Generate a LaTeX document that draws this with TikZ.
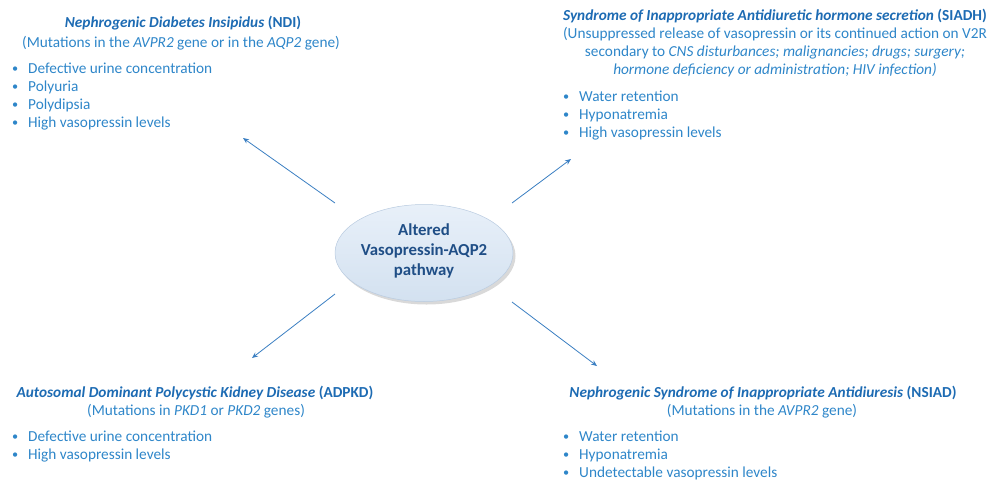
\documentclass[tikz,border=0pt]{standalone}
\usepackage{fontspec}
\setmainfont{Carlito}
\usetikzlibrary{shapes.geometric,shadows,arrows.meta}
\definecolor{ttl}{HTML}{1D6BB3}
\definecolor{bdy}{HTML}{2E86C9}
\definecolor{elltop}{HTML}{E8F0F9}
\definecolor{ellbot}{HTML}{D3E1F0}
\definecolor{ellbd}{HTML}{B9CBE0}
\definecolor{elltxt}{HTML}{1F4E86}
\definecolor{arr}{HTML}{3B7FC2}
\tikzset{
  ln/.style={anchor=base, inner sep=0pt, font=\fontsize{15.3}{18}\selectfont, text=bdy},
  tl/.style={ln, font=\fontsize{15.3}{18}\selectfont\bfseries, text=ttl},
  bl/.style={ln, anchor=base west},
  hl/.style={anchor=base, inner sep=0pt, font=\fontsize{16.8}{20}\selectfont\bfseries, text=elltxt},
  con/.style={draw=arr, line width=0.8pt, -{Stealth[length=6pt,width=5pt]}},
  hub/.style={ellipse, top color=elltop, bottom color=ellbot, draw=ellbd, line width=0.5pt, minimum width=178pt, minimum height=97pt, inner sep=0pt,
    drop shadow={shadow xshift=2.5pt, shadow yshift=-3pt, opacity=0.3}}
}
\newcommand{\bul}[1]{\makebox[16pt][l]{\raisebox{1pt}{\scalebox{0.8}{•}}}#1}
\begin{document}
\begin{tikzpicture}[x=1pt,y=-1pt]
\useasboundingbox (0,0) rectangle (1000,491);
% hub
\node[hub] (hub) at (424,253) {};
\node[hl] (h1) at (424,235) {Altered};
\node[hl] (h2) at (424,255) {Vasopressin-AQP2};
\node[hl] (h3) at (424,275) {pathway};
% NDI
\node[tl] (ndiT) at (183,27) {\textit{Nephrogenic Diabetes Insipidus} (NDI)};
\node[ln] (ndiS) at (181,47) {(Mutations in the \textit{AVPR2} gene or in the \textit{AQP2} gene)};
\node[bl] (ndi1) at (12,73) {\bul{Defective urine concentration}};
\node[bl] (ndi2) at (12,91) {\bul{Polyuria}};
\node[bl] (ndi3) at (12,109) {\bul{Polydipsia}};
\node[bl] (ndi4) at (12,127) {\bul{High vasopressin levels}};
% SIADH
\node[tl] (siT) at (775,20) {\textit{Syndrome of Inappropriate Antidiuretic hormone secretion} (SIADH)};
\node[ln] (siS1) at (775,38) {(Unsuppressed release of vasopressin or its continued action on V2R};
\node[ln] (siS2) at (775,56) {secondary to \textit{CNS disturbances; malignancies; drugs; surgery;}};
\node[ln] (siS3) at (775,74) {\textit{hormone deficiency or administration; HIV infection)}};
\node[bl] (si1) at (563,101) {\bul{Water retention}};
\node[bl] (si2) at (563,119) {\bul{Hyponatremia}};
\node[bl] (si3) at (563,137) {\bul{High vasopressin levels}};
% ADPKD
\node[tl] (adT) at (195,397) {\textit{Autosomal Dominant Polycystic Kidney Disease} (ADPKD)};
\node[ln] (adS) at (196,415) {(Mutations in \textit{PKD1} or \textit{PKD2} genes)};
\node[bl] (ad1) at (12,441) {\bul{Defective urine concentration}};
\node[bl] (ad2) at (12,459) {\bul{High vasopressin levels}};
% NSIAD
\node[tl] (nsT) at (763,397) {\textit{Nephrogenic Syndrome of Inappropriate Antidiuresis} (NSIAD)};
\node[ln] (nsS) at (762,415) {(Mutations in the \textit{AVPR2} gene)};
\node[bl] (ns1) at (563,441) {\bul{Water retention}};
\node[bl] (ns2) at (563,459) {\bul{Hyponatremia}};
\node[bl] (ns3) at (563,477) {\bul{Undetectable vasopressin levels}};
% connectors
\coordinate (aNWs) at (335,203); \coordinate (aNWe) at (243,138);
\coordinate (aNEs) at (512,203); \coordinate (aNEe) at (571,159);
\coordinate (aSWs) at (335,294); \coordinate (aSWe) at (252,358);
\coordinate (aSEs) at (512,302); \coordinate (aSEe) at (597,366);
\draw[con] (aNWs) -- (aNWe);
\draw[con] (aNEs) -- (aNEe);
\draw[con] (aSWs) -- (aSWe);
\draw[con] (aSEs) -- (aSEe);
\end{tikzpicture}
\end{document}
